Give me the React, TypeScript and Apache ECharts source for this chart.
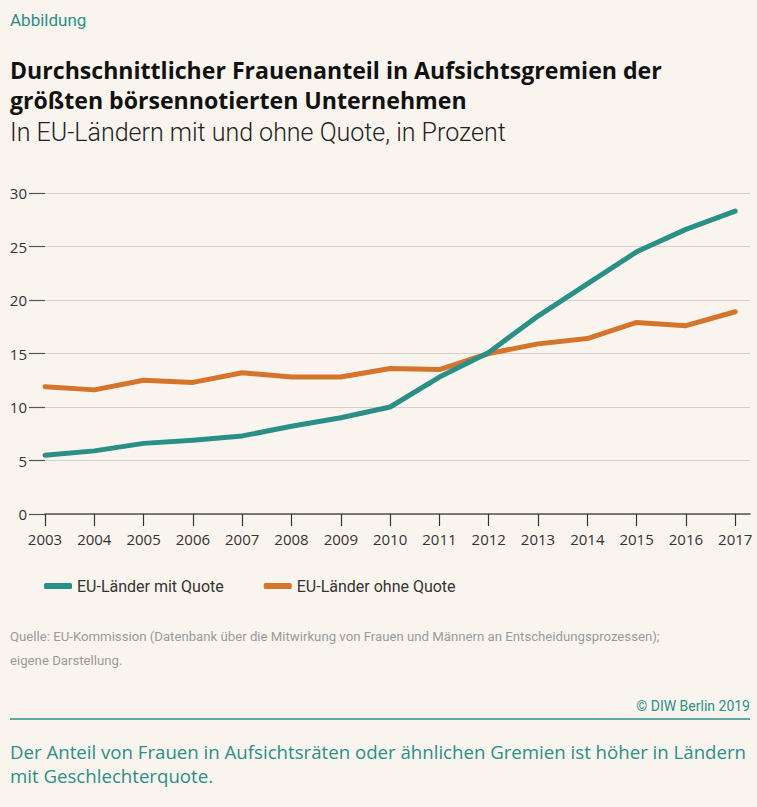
import React, { useEffect, useRef } from "react";
import * as echarts from "echarts";

const years = [2003, 2004, 2005, 2006, 2007, 2008, 2009, 2010, 2011, 2012, 2013, 2014, 2015, 2016, 2017];
const mitQuote = [5.5, 5.9, 6.6, 6.9, 7.3, 8.2, 9.0, 10.0, 12.8, 15.1, 18.5, 21.5, 24.5, 26.6, 28.3];
const ohneQuote = [11.9, 11.6, 12.5, 12.3, 13.2, 12.8, 12.8, 13.6, 13.5, 15.0, 15.9, 16.4, 17.9, 17.6, 18.9];
const seriesNames = ["EU-Länder mit Quote", "EU-Länder ohne Quote"];
const yTicks = [0, 5, 10, 15, 20, 25, 30];

const TEAL = "#2a8f87";
const ORANGE = "#d5742b";
const BG = "#f9f5ee";
const FONT = "Roboto, 'Noto Sans', sans-serif";
const NUMFONT = "'Open Sans', 'Noto Sans', sans-serif";

function txt(text: string, x: number, y: number, size: number, color: string, weight: string = "normal", align: string = "left", family: string = FONT) {
  return {
    type: "text",
    x,
    y,
    silent: true,
    style: {
      text,
      fill: color,
      fontSize: size,
      fontWeight: weight,
      fontFamily: family,
      textAlign: align,
      align,
      textVerticalAlign: "middle",
      verticalAlign: "middle",
    },
  };
}

export default function App() {
  const ref = useRef<HTMLDivElement>(null);
  useEffect(() => {
    if (!ref.current) return;
    const chart = echarts.init(ref.current, null, { renderer: "svg" });
    const option: any = {
      animation: false,
      backgroundColor: BG,
      grid: { left: 45, right: 7, top: 193, bottom: 293, containLabel: false },
      legend: {
        left: 44,
        top: 578,
        padding: 0,
        itemWidth: 28,
        itemHeight: 6,
        itemGap: 40,
        icon: "roundRect",
        textStyle: { fontSize: 16, color: "#333", fontFamily: FONT, padding: [0, 0, 0, 0] },
        data: seriesNames,
      },
      xAxis: {
        type: "value",
        min: years[0],
        max: years[years.length - 1] + 0.3,
        interval: 1,
        axisLine: { show: true, lineStyle: { color: "#555", width: 1.5 } },
        axisTick: { show: true, length: 12, lineStyle: { color: "#333", width: 1.2 }, customValues: years },
        axisLabel: {
          show: true,
          customValues: years,
          margin: 17,
          fontSize: 15,
          color: "#333",
          fontFamily: NUMFONT,
          formatter: (v: number) => (Number.isInteger(v) ? String(v) : ""),
        },
        splitLine: { show: false },
      },
      yAxis: {
        type: "value",
        min: 0,
        max: 30,
        interval: 5,
        axisLine: { show: false },
        axisTick: { show: true, length: 16, lineStyle: { color: "#555", width: 1.2 } },
        axisLabel: { margin: 18, fontSize: 15, color: "#333", fontFamily: NUMFONT, formatter: (v: number) => (yTicks.includes(v) ? String(v) : "") },
        splitLine: { show: true, lineStyle: { color: "#d3cfc9", width: 1 } },
      },
      series: [
        {
          name: seriesNames[0],
          type: "line",
          data: years.map((y, i) => [y, mitQuote[i]]),
          symbol: "none",
          color: TEAL,
          itemStyle: { color: TEAL },
          lineStyle: { color: TEAL, width: 5, cap: "round", join: "round" },
          z: 3,
        },
        {
          name: seriesNames[1],
          type: "line",
          data: years.map((y, i) => [y, ohneQuote[i]]),
          symbol: "none",
          color: ORANGE,
          itemStyle: { color: ORANGE },
          lineStyle: { color: ORANGE, width: 5, cap: "round", join: "round" },
          z: 2,
        },
      ],
      graphic: [
        txt("Abbildung", 10, 20, 17, TEAL),
        txt("Durchschnittlicher Frauenanteil in Aufsichtsgremien der", 10, 70, 23.1, "#111", "bold", "left", NUMFONT),
        txt("größten börsennotierten Unternehmen", 10, 100, 23.1, "#111", "bold", "left", NUMFONT),
        txt("In EU-Ländern mit und ohne Quote, in Prozent", 10, 132, 25, "#222", "300"),
        txt("Quelle: EU-Kommission (Datenbank über die Mitwirkung von Frauen und Männern an Entscheidungsprozessen);", 10, 636, 13.2, "#9a9a9a"),
        txt("eigene Darstellung.", 10, 660, 13.2, "#9a9a9a"),
        txt("© DIW Berlin 2019", 750, 706, 14, TEAL, "normal", "right"),
        {
          type: "line",
          silent: true,
          shape: { x1: 10, y1: 719, x2: 750, y2: 719 },
          style: { stroke: TEAL, lineWidth: 1.5 },
        },
        txt("Der Anteil von Frauen in Aufsichtsräten oder ähnlichen Gremien ist höher in Ländern", 10, 751, 18.65, TEAL, "normal", "left", NUMFONT),
        txt("mit Geschlechterquote.", 10, 775, 18.65, TEAL, "normal", "left", NUMFONT),
      ],
    };
    chart.setOption(option);
    return () => chart.dispose();
  }, []);
  return <div ref={ref} style={{ position: "absolute", left: 0, top: 0, width: 757, height: 807 }} />;
}
